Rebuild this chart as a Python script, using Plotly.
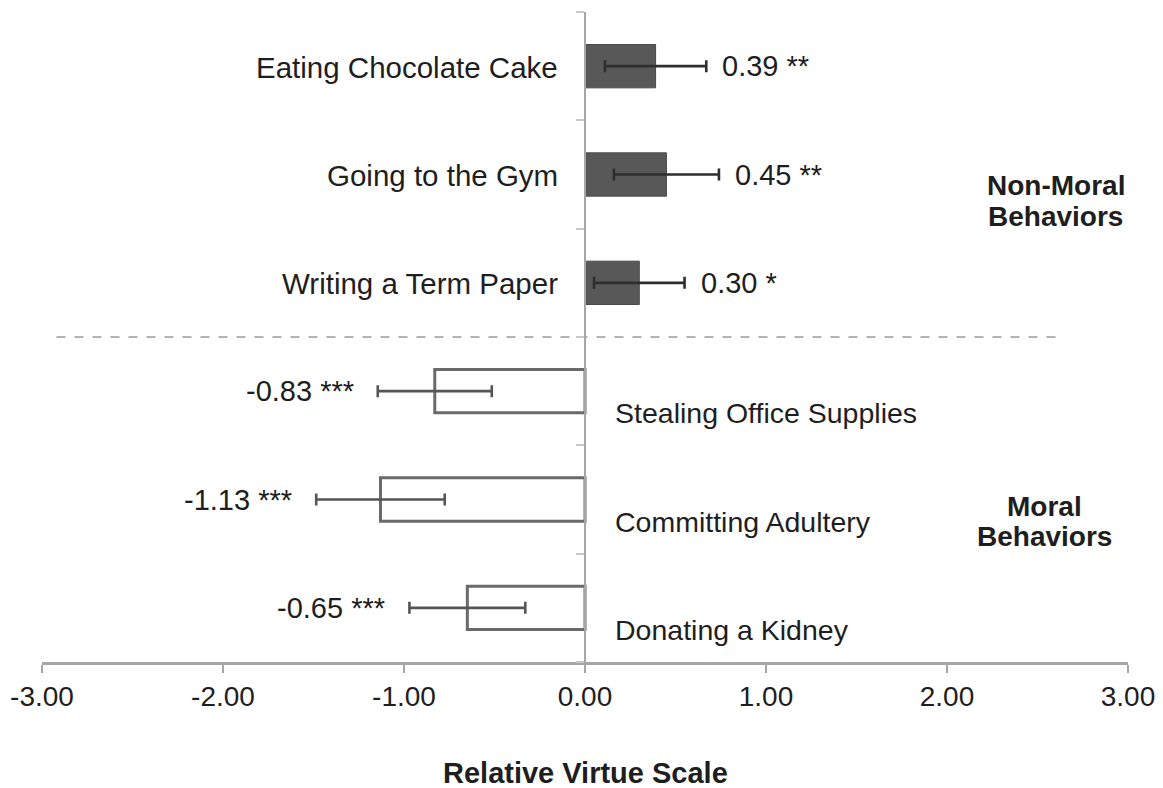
import plotly.graph_objects as go

# ---- data ----
nonmoral_labels = ["Eating Chocolate Cake", "Going to the Gym", "Writing a Term Paper"]
nonmoral_values = [0.39, 0.45, 0.30]
nonmoral_errors = [0.28, 0.29, 0.25]
nonmoral_sig = ["**", "**", "*"]

moral_labels = ["Stealing Office Supplies", "Committing Adultery", "Donating a Kidney"]
moral_values = [-0.83, -1.13, -0.65]
moral_errors = [0.315, 0.355, 0.32]
moral_sig = ["***", "***", "***"]

x_ticks = [-3, -2, -1, 0, 1, 2, 3]
x_title = "Relative Virtue Scale"
group_nonmoral = ["Non-Moral", "Behaviors"]
group_moral = ["Moral", "Behaviors"]

FONT = "Liberation Sans, Arial, Helvetica, sans-serif"
TXT = "#1e1e1e"
AXC = "#a6a6a6"

nm_pos = list(range(len(nonmoral_labels)))
m_pos = [len(nonmoral_labels) + i for i in range(len(moral_labels))]
n_total = len(nm_pos) + len(m_pos)

fig = go.Figure()
fig.add_trace(go.Bar(
    x=nonmoral_values, y=nm_pos, orientation="h", width=0.4,
    marker=dict(color="#585858", line=dict(color="#4a4a4a", width=1)),
    error_x=dict(type="data", array=nonmoral_errors, color="#2e2e2e", thickness=2.6, width=6),
    showlegend=False, hoverinfo="skip"))
fig.add_trace(go.Bar(
    x=moral_values, y=m_pos, orientation="h", width=0.4,
    marker=dict(color="white", line=dict(color="#6a6a6a", width=3)),
    error_x=dict(type="data", array=moral_errors, color="#555555", thickness=2.6, width=6),
    showlegend=False, hoverinfo="skip"))

ann = []
# category labels
for p, lab in zip(nm_pos, nonmoral_labels):
    ann.append(dict(x=0, y=p, xref="x", yref="y", text=lab, showarrow=False,
                    xanchor="right", yanchor="middle", xshift=-25, yshift=-1,
                    font=dict(size=29.5, color=TXT, family=FONT)))
for p, lab in zip(m_pos, moral_labels):
    ann.append(dict(x=0, y=p, xref="x", yref="y", text=lab, showarrow=False,
                    xanchor="left", yanchor="middle", xshift=28, yshift=-22,
                    font=dict(size=28.5, color=TXT, family=FONT)))
# value labels
for p, v, e, s in zip(nm_pos, nonmoral_values, nonmoral_errors, nonmoral_sig):
    ann.append(dict(x=v + e, y=p, xref="x", yref="y", text=f"{v:.2f} {s}", showarrow=False,
                    xanchor="left", yanchor="middle", xshift=14, yshift=0,
                    font=dict(size=29, color=TXT, family=FONT)))
for p, v, e, s in zip(m_pos, moral_values, moral_errors, moral_sig):
    ann.append(dict(x=v - e, y=p, xref="x", yref="y", text=f"{v:.2f} {s}", showarrow=False,
                    xanchor="right", yanchor="middle", xshift=-22, yshift=0,
                    font=dict(size=29, color=TXT, family=FONT)))
# group labels
for i, t in enumerate(group_nonmoral):
    ann.append(dict(x=2.60, y=1.1 + i * 0.285, xref="x", yref="y", text=f"<b>{t}</b>",
                    showarrow=False, xanchor="center", yanchor="middle",
                    font=dict(size=28, color=TXT, family=FONT)))
for i, t in enumerate(group_moral):
    ann.append(dict(x=2.54, y=4.06 + i * 0.285, xref="x", yref="y", text=f"<b>{t}</b>",
                    showarrow=False, xanchor="center", yanchor="middle",
                    font=dict(size=28, color=TXT, family=FONT)))
# axis title
ann.append(dict(x=0.5, y=-0.171, xref="paper", yref="paper", text=f"<b>{x_title}</b>",
                showarrow=False, xanchor="center", yanchor="middle",
                font=dict(size=29, color=TXT, family=FONT)))

# page body has an 8px margin, so the figure is sized/offset to compensate
fig.update_layout(
    width=1155, height=780,
    margin=dict(l=34, r=35, t=4, b=126, autoexpand=False),
    paper_bgcolor="white", plot_bgcolor="white",
    barmode="overlay",
    annotations=ann,
    shapes=[dict(type="line", xref="x", yref="y", x0=-2.92, x1=2.62,
                 y0=len(nm_pos) - 0.5, y1=len(nm_pos) - 0.5,
                 line=dict(color="#9a9a9a", width=1.5, dash="dash"), layer="below")],
    xaxis=dict(range=[x_ticks[0], x_ticks[-1]], tickvals=x_ticks,
               ticktext=[f"{t:.2f}" for t in x_ticks], automargin=False,
               showgrid=False, zeroline=False, showline=True, linecolor=AXC, linewidth=2.5,
               ticks="outside", ticklen=8, tickwidth=1.5, tickcolor=AXC,
               tickfont=dict(size=28, color=TXT, family=FONT), fixedrange=True),
    yaxis=dict(range=[n_total - 0.5, -0.5], anchor="free", position=0.5,
               tickvals=[i - 0.5 for i in range(n_total + 1)], automargin=False,
               showticklabels=False, showgrid=False, zeroline=False,
               showline=True, linecolor=AXC, linewidth=2,
               ticks="outside", ticklen=8, tickwidth=1.5, tickcolor="#c8c8c8", fixedrange=True),
)

fig.write_html("out.html")
